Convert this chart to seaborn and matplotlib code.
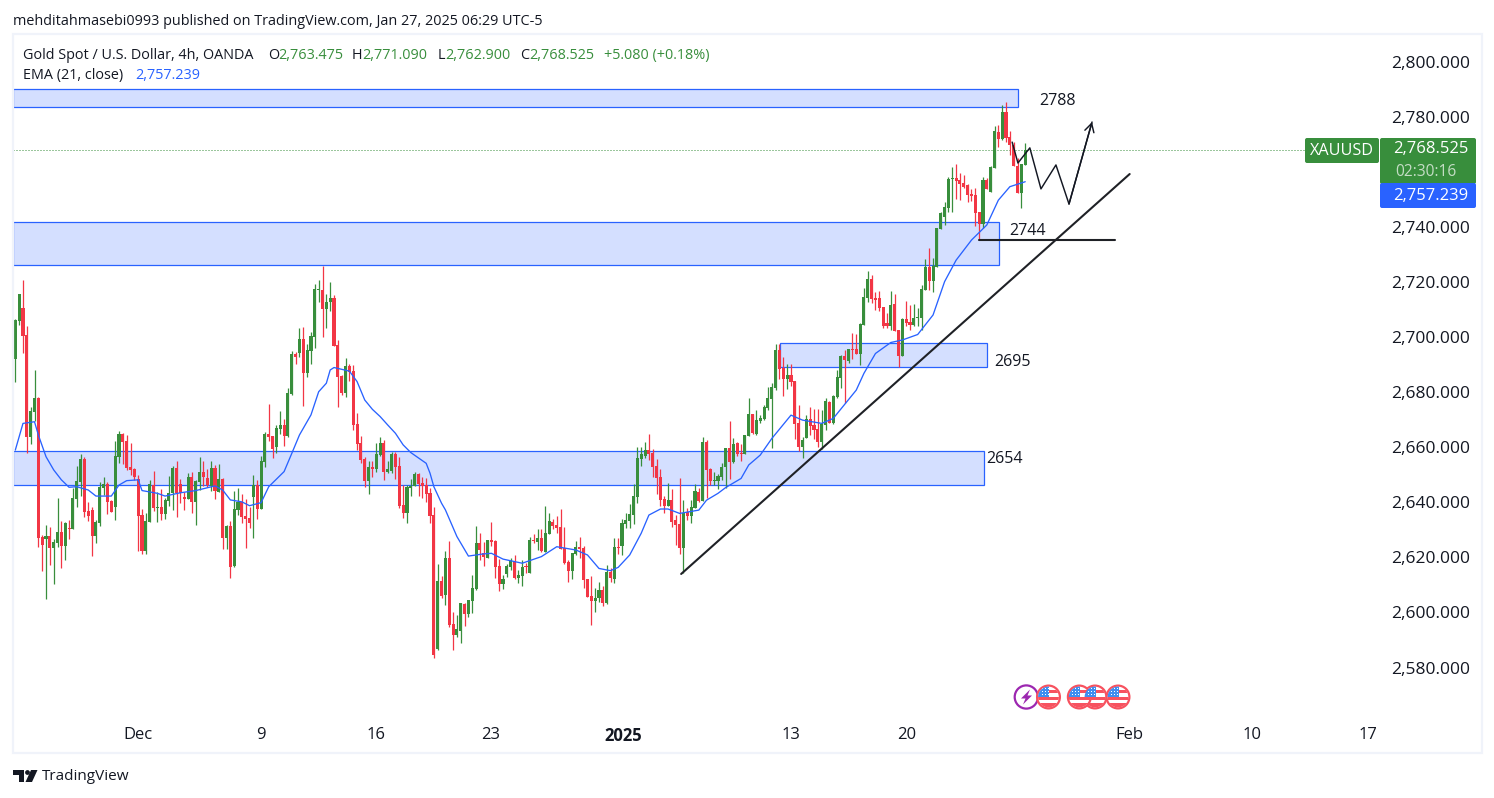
import numpy as np
import pandas as pd
import matplotlib
matplotlib.use("Agg")
import matplotlib.pyplot as plt
from matplotlib.patches import Rectangle, Circle, Polygon, FancyBboxPatch
from matplotlib.transforms import IdentityTransform
import seaborn as sns

opens = [
 2692.2,2706.0,2710.6,2700.8,2663.9,2673.0,2678.1,2627.3,2626.8,2627.8,
 2623.4,2625.2,2629.3,2624.3,2630.7,2630.5,2641.4,2647.4,2655.8,2636.9,
 2637.2,2627.9,2632.6,2645.2,2646.7,2640.5,2638.5,2656.6,2664.9,2662.3,
 2652.9,2652.1,2648.5,2635.4,2622.5,2633.0,2646.3,2638.1,2638.3,2635.9,
 2640.6,2643.3,2652.5,2646.7,2642.0,2641.4,2649.2,2640.3,2647.4,2651.0,
 2648.9,2646.0,2652.5,2643.8,2648.5,2627.2,2631.4,2617.0,2637.2,2640.2,
 2635.1,2634.3,2642.1,2646.3,2637.7,2654.8,2664.9,2664.1,2660.3,2666.7,
 2668.1,2664.1,2679.4,2693.9,2694.3,2699.4,2687.0,2695.0,2700.1,2717.2,
 2717.2,2710.3,2712.8,2714.3,2697.2,2685.9,2679.7,2689.6,2687.7,2668.5,
 2661.6,2655.8,2647.8,2652.9,2652.1,2657.2,2661.6,2651.0,2651.4,2657.6,
 2653.2,2639.1,2636.2,2645.2,2646.0,2650.3,2647.1,2646.3,2643.4,2635.4,
 2586.7,2611.4,2606.4,2619.8,2595.8,2591.8,2593.3,2603.1,2599.5,2604.2,
 2608.5,2625.2,2621.6,2619.8,2626.3,2626.0,2616.9,2610.3,2614.0,2616.5,
 2618.7,2612.5,2613.3,2616.9,2614.3,2626.3,2625.6,2627.1,2622.0,2628.5,
 2632.9,2631.8,2631.1,2623.4,2618.3,2615.1,2621.3,2623.8,2623.4,2612.2,
 2606.0,2604.2,2605.3,2608.2,2603.5,2614.7,2612.2,2623.8,2624.2,2632.2,
 2633.2,2635.4,2642.0,2655.8,2656.9,2659.0,2657.9,2653.2,2649.2,2641.2,
 2638.7,2640.9,2633.6,2632.1,2623.4,2636.5,2635.0,2637.9,2643.7,2640.5,
 2661.9,2652.1,2647.7,2647.7,2649.2,2652.8,2659.7,2654.6,2661.5,2657.9,
 2657.6,2664.1,2672.1,2664.8,2669.5,2670.3,2674.3,2677.5,2681.5,2695.3,
 2688.8,2684.8,2686.3,2684.1,2668.8,2660.1,2663.4,2670.3,2668.1,2666.6,
 2661.9,2668.1,2676.4,2668.8,2678.3,2685.2,2693.2,2691.3,2695.7,2695.7,
 2693.9,2704.4,2714.2,2721.1,2714.2,2714.2,2711.0,2705.0,2704.1,2712.1,
 2702.6,2693.2,2706.6,2705.5,2704.4,2707.0,2707.0,2717.1,2725.5,2720.4,
 2725.5,2739.3,2743.7,2746.9,2757.5,2757.8,2757.1,2756.0,2755.3,2752.0,
 2751.7,2745.5,2741.1,2757.1,2752.7,2761.5,2774.5,2772.0,2781.8,2772.7,
 2769.8,2762.2,2752.4,2762.6]
highs = [
 2706.5,2715.7,2720.8,2704.1,2674.7,2688.1,2678.3,2628.2,2631.8,2631.2,
 2626.6,2641.6,2633.3,2632.8,2633.6,2645.1,2653.2,2657.6,2656.5,2640.2,
 2638.2,2633.6,2647.4,2649.2,2647.4,2640.9,2662.3,2666.0,2665.2,2664.5,
 2661.6,2652.5,2650.0,2637.6,2636.1,2648.2,2651.4,2643.8,2644.9,2641.6,
 2649.6,2653.2,2655.1,2648.5,2643.8,2650.7,2651.0,2648.2,2656.5,2655.1,
 2652.1,2655.1,2653.6,2654.0,2648.9,2631.8,2633.3,2644.2,2645.2,2643.1,
 2641.2,2638.3,2650.0,2648.2,2656.9,2665.6,2675.8,2664.1,2668.1,2673.2,
 2670.3,2681.6,2695.0,2694.6,2703.4,2703.7,2697.6,2701.9,2719.3,2720.8,
 2725.9,2715.7,2720.1,2715.4,2699.0,2686.3,2692.5,2690.3,2689.9,2672.5,
 2664.1,2656.5,2655.1,2655.1,2661.6,2663.8,2662.7,2655.1,2658.3,2658.3,
 2656.5,2646.3,2646.3,2648.5,2651.0,2650.7,2649.2,2648.9,2645.2,2638.2,
 2617.6,2613.3,2622.3,2626.0,2600.2,2599.1,2603.5,2603.5,2604.5,2613.6,
 2631.4,2628.9,2625.6,2626.3,2632.9,2626.3,2619.4,2613.6,2617.6,2619.8,
 2620.9,2615.4,2619.1,2618.0,2627.4,2628.5,2630.3,2630.3,2638.7,2636.1,
 2634.0,2635.1,2637.6,2631.1,2619.1,2621.6,2626.0,2627.4,2624.2,2612.2,
 2613.3,2608.9,2611.1,2609.6,2617.3,2616.2,2627.1,2627.1,2634.0,2636.1,
 2639.4,2646.7,2660.1,2660.1,2661.9,2664.8,2659.4,2655.8,2652.1,2642.3,
 2647.0,2644.9,2635.4,2648.8,2640.8,2637.9,2640.8,2646.6,2645.2,2663.7,
 2662.6,2652.5,2651.0,2650.3,2654.3,2659.7,2669.5,2663.4,2661.9,2661.2,
 2664.5,2677.9,2672.1,2673.5,2671.7,2675.4,2681.9,2683.3,2697.5,2697.5,
 2692.8,2690.2,2690.2,2684.1,2675.4,2663.7,2671.7,2674.6,2673.9,2673.9,
 2673.5,2677.9,2676.8,2679.0,2688.1,2693.5,2695.3,2695.7,2701.5,2701.1,
 2705.2,2717.9,2724.0,2722.6,2716.4,2716.8,2711.0,2708.7,2716.8,2715.7,
 2702.6,2707.0,2713.1,2711.7,2712.1,2710.6,2719.0,2728.4,2732.4,2728.8,
 2739.7,2745.5,2749.1,2758.2,2761.8,2762.9,2759.6,2758.9,2755.6,2753.8,
 2754.2,2745.5,2758.2,2757.8,2762.2,2776.7,2777.1,2784.4,2785.4,2774.9,
 2770.9,2765.1,2762.9,2770.5]
lows = [
 2683.9,2704.5,2694.4,2657.8,2661.3,2669.6,2623.9,2615.2,2605.0,2617.4,
 2610.5,2623.7,2616.3,2619.2,2626.8,2630.4,2638.5,2642.4,2634.8,2633.4,
 2620.7,2625.4,2631.4,2642.6,2635.9,2636.5,2633.6,2654.4,2654.0,2651.8,
 2650.0,2648.2,2622.5,2621.4,2621.4,2633.0,2637.0,2633.0,2633.7,2634.1,
 2638.8,2637.4,2634.8,2639.9,2637.4,2641.4,2636.3,2631.9,2644.5,2646.0,
 2645.7,2644.2,2641.4,2643.8,2623.2,2623.2,2612.7,2616.7,2635.4,2632.6,
 2623.6,2630.8,2627.2,2634.1,2637.7,2653.0,2662.4,2656.2,2657.8,2664.9,
 2660.5,2663.9,2679.0,2690.3,2692.8,2675.1,2685.6,2690.3,2696.1,2712.8,
 2700.1,2703.4,2709.5,2696.8,2674.7,2679.0,2678.3,2684.1,2666.3,2659.0,
 2654.3,2645.6,2643.1,2649.2,2651.0,2656.9,2648.2,2650.7,2650.7,2648.5,
 2638.0,2634.3,2632.5,2642.3,2646.0,2642.3,2641.6,2640.2,2632.5,2583.5,
 2586.4,2605.1,2602.7,2594.7,2586.4,2591.2,2588.9,2595.1,2598.4,2599.8,
 2608.2,2619.1,2616.9,2619.8,2624.2,2612.5,2607.8,2608.5,2612.9,2615.4,
 2612.2,2610.7,2609.6,2614.3,2614.3,2625.2,2622.7,2622.0,2622.0,2628.5,
 2630.3,2628.9,2623.1,2617.6,2611.1,2612.2,2620.9,2619.8,2608.9,2605.6,
 2595.5,2600.2,2603.8,2602.4,2603.1,2611.1,2610.7,2621.3,2620.9,2630.7,
 2630.7,2632.2,2639.8,2653.2,2656.1,2655.4,2649.2,2643.0,2638.7,2636.2,
 2638.7,2631.1,2624.5,2621.2,2614.3,2633.6,2632.5,2637.9,2640.1,2640.5,
 2641.6,2646.3,2646.3,2644.8,2648.1,2645.2,2648.5,2654.3,2656.8,2655.0,
 2657.6,2664.1,2664.8,2664.5,2668.8,2669.9,2673.5,2659.7,2680.8,2684.8,
 2678.6,2681.2,2682.3,2663.0,2658.6,2656.1,2663.4,2664.5,2663.0,2660.1,
 2659.4,2666.3,2668.8,2668.5,2677.9,2681.5,2676.1,2690.6,2692.1,2693.9,
 2689.9,2704.4,2712.8,2712.4,2709.9,2709.5,2703.3,2703.2,2702.6,2702.2,
 2689.2,2693.2,2704.1,2702.6,2704.1,2704.1,2702.6,2717.1,2717.1,2716.4,
 2725.5,2739.3,2740.8,2745.5,2745.5,2750.2,2749.8,2754.2,2749.1,2749.5,
 2740.4,2735.3,2739.7,2753.8,2752.7,2761.5,2769.1,2771.6,2770.9,2766.2,
 2762.2,2752.4,2746.9,2762.5]
closes = [
 2706.3,2715.7,2700.6,2663.9,2673.2,2677.9,2627.2,2624.5,2627.8,2623.4,
 2625.6,2629.3,2624.3,2632.5,2630.5,2641.6,2647.8,2655.8,2636.6,2635.1,
 2627.9,2632.9,2645.6,2646.7,2640.3,2636.6,2656.9,2664.9,2662.1,2652.6,
 2651.8,2649.2,2635.2,2622.5,2633.2,2646.7,2638.1,2638.3,2635.9,2640.9,
 2643.4,2652.5,2643.3,2643.3,2641.4,2649.2,2640.3,2647.8,2651.0,2649.2,
 2646.3,2652.5,2644.2,2648.5,2627.2,2631.4,2616.7,2637.6,2640.2,2634.8,
 2634.1,2632.6,2646.3,2637.7,2655.1,2664.9,2663.9,2659.4,2667.0,2668.1,
 2664.1,2679.7,2693.9,2692.8,2699.4,2687.1,2695.4,2700.5,2717.5,2717.5,
 2710.3,2712.8,2714.3,2696.8,2685.6,2679.7,2689.6,2687.4,2668.1,2661.2,
 2655.4,2647.8,2652.9,2652.1,2657.6,2661.6,2651.0,2652.1,2657.6,2652.9,
 2638.7,2636.2,2645.6,2646.0,2650.3,2646.7,2646.0,2643.1,2635.1,2584.6,
 2611.4,2606.1,2619.8,2595.5,2591.8,2594.0,2603.5,2599.5,2604.5,2608.9,
 2625.2,2622.7,2620.2,2626.3,2625.6,2616.5,2610.3,2612.2,2616.9,2618.7,
 2612.5,2613.6,2616.5,2616.5,2626.3,2626.0,2627.1,2622.3,2628.9,2633.2,
 2631.4,2630.7,2623.1,2618.0,2615.1,2621.6,2623.8,2623.1,2611.8,2605.6,
 2604.2,2605.3,2608.2,2603.5,2614.7,2612.5,2623.8,2623.4,2632.5,2633.6,
 2635.8,2642.3,2656.1,2657.6,2659.0,2657.6,2652.9,2648.9,2640.9,2638.7,
 2640.9,2632.9,2631.8,2623.4,2636.1,2635.0,2638.3,2644.1,2640.5,2661.9,
 2651.7,2647.7,2648.1,2649.6,2652.8,2659.7,2654.6,2661.2,2657.6,2657.6,
 2664.5,2672.1,2665.2,2669.9,2670.6,2674.6,2677.9,2681.9,2695.3,2688.4,
 2684.8,2686.3,2683.7,2668.4,2660.1,2662.6,2670.3,2667.7,2666.3,2661.9,
 2668.5,2676.8,2668.8,2678.6,2685.5,2693.2,2691.7,2695.7,2695.3,2693.9,
 2704.8,2714.6,2721.1,2713.9,2713.5,2710.6,2704.1,2704.1,2711.7,2702.2,
 2693.2,2706.6,2705.2,2704.4,2707.0,2707.3,2717.5,2725.5,2720.4,2725.9,
 2739.7,2745.1,2747.3,2757.5,2757.8,2756.7,2755.6,2754.6,2751.7,2751.3,
 2745.1,2741.1,2757.1,2753.8,2761.8,2774.9,2772.0,2781.8,2772.4,2769.8,
 2762.2,2752.4,2762.9,2768.0]

ema_idx = [0,2,5,6,8,10,12,14,16,19,21,25,27,29,32,33,37,39,43,47,52,54,56,59,61,
           64,66,70,72,74,77,79,81,82,83,87,89,91,93,95,97,99,101,103,107,108,109,111,112,115,118,
           122,124,127,132,137,141,146,149,152,155,157,160,163,165,168,170,173,
           178,180,183,185,189,191,194,197,202,205,210,213,219,221,224,228,231,235,239,242,245,249,253,256,259,263]
ema_val = [2659.0,2668.7,2669.3,2664.5,2656.6,2651.8,2648.2,2645.5,2645.7,2644.5,2642.3,2642.3,2646.3,2647.9,2648.2,2644.3,2643.3,2642.3,2643.5,2644.3,2646.0,2644.5,2640.9,2640.2,2638.8,
           2639.9,2645.7,2651.2,2657.8,2664.5,2671.8,2680.2,2683.3,2688.1,2689.0,2687.7,2683.9,2677.2,2673.8,2671.2,2668.1,2665.1,2660.9,2658.1,2654.2,2650.6,2645.7,2639.7,2637.3,2627.6,2620.5,
           2621.3,2621.5,2619.4,2617.9,2620.3,2623.9,2622.7,2620.9,2616.0,2615.2,2616.4,2620.9,2628.8,2635.4,2637.6,2637.6,2636.0,
           2637.2,2640.8,2643.3,2645.4,2648.7,2653.6,2657.2,2663.2,2671.7,2669.9,2668.7,2670.5,2680.8,2686.9,2694.1,2698.1,2699.0,2701.0,2708.1,2720.2,2728.0,2735.3,2740.8,2749.8,2754.7,2756.5]

zone_left = [-0.6, -0.6, 199.1, -0.6]
zone_right = [261.1, 256.2, 253.1, 252.3]
zone_top = [2790.2, 2741.9, 2697.9, 2658.7]
zone_bottom = [2783.7, 2726.2, 2689.2, 2646.3]

trend_idx = [173.4, 290.2]
trend_price = [2614.0, 2759.3]
support_idx = [251.0, 286.4]
support_price = [2735.3, 2735.3]
path_idx = [259.6, 261.1, 264.2, 267.1, 271.0, 274.4, 280.4]
path_price = [2770.9, 2763.3, 2768.8, 2753.9, 2762.6, 2748.4, 2778.2]

note_text = ["2788", "2744", "2695", "2654"]
note_idx = [271.5, 263.7, 259.6, 257.7]
note_price = [2785.8, 2738.6, 2691.0, 2655.7]

price_ticks = list(range(2580, 2801, 20))
date_ticks = [31.9, 64.0, 93.9, 123.9, 158.3, 202.0, 232.2, 290.0, 322.0, 352.2]
date_labels = ["Dec", "9", "16", "23", "2025", "13", "20", "Feb", "10", "17"]
last_price_label = "2,768.525"
last_ema_label = "2,757.239"
price_line = 2767.9

GREEN, RED, BLUE, INK = "#388e3c", "#f23645", "#2962ff", "#131722"
W, H = 1494, 798
FONT = ["Open Sans", "DejaVu Sans"]

sns.set_theme(style="white")
plt.rcParams["font.family"] = FONT
fig = plt.figure(figsize=(W / 100, H / 100), dpi=100, facecolor="white")
ax = fig.add_axes([13 / W, (H - 716) / H, (1381 - 13) / W, (716 - 35) / H])
ax.set_facecolor("white")
for s in ax.spines.values():
    s.set_visible(False)

def px(x, y):
    return x / W, (H - y) / H

def ytop(y):
    return H - y

idx = np.arange(len(opens))
o, h, l, c = map(np.array, (opens, highs, lows, closes))
up = c >= o
colors = np.where(up, GREEN, RED)

for a, b, t, u in zip(zone_left, zone_right, zone_top, zone_bottom):
    ax.add_patch(Rectangle((a, u), b - a, t - u, fc=(0.161, 0.384, 1, 0.2), ec=BLUE, lw=0.9, zorder=1))

ax.vlines(idx, l, h, colors=colors, lw=0.9, zorder=3)
ax.bar(idx, np.maximum(np.abs(c - o), 0.3), bottom=np.minimum(o, c), width=0.8, color=colors, lw=0, zorder=4)

df = pd.DataFrame({"candle": ema_idx, "ema": ema_val})
sns.lineplot(data=df, x="candle", y="ema", ax=ax, color=BLUE, lw=0.95, zorder=5, errorbar=None, estimator=None, sort=False)

ax.hlines(price_line, -0.6, 336, colors=GREEN, lw=0.72, linestyles=(0, (1, 2)), zorder=2)
ax.plot(trend_idx, trend_price, color="#1f2126", lw=1.5, zorder=6, solid_capstyle="round")
ax.plot(support_idx, support_price, color="#1f2126", lw=1.5, zorder=6)
ax.plot(path_idx, path_price, color="#131722", lw=1.05, zorder=7)
ax.annotate("", xy=(path_idx[-1], path_price[-1]), xytext=(path_idx[-2], path_price[-2]),
            arrowprops=dict(arrowstyle="->,head_length=0.5,head_width=0.28", color="#131722", lw=1.05, shrinkA=0, shrinkB=0), zorder=7)

for t, xi, yi in zip(note_text, note_idx, note_price):
    ax.text(xi, yi, t, ha="center", va="center", fontsize=11.5, color="#131722", zorder=8)

ax.set_xlim(-0.6, 355.65)
ax.set_ylim(2800 - (716 - 62) / 2.7525, 2800 + (62 - 35) / 2.7525)
ax.set_xlabel("")
ax.set_ylabel("")
ax.yaxis.tick_right()
ax.set_yticks(price_ticks)
ax.set_yticklabels([f"{p:,}.000" for p in price_ticks])
ax.tick_params(axis="y", length=0, pad=7.2, labelsize=12.5, labelcolor=INK)
ax.set_xticks(date_ticks)
ax.set_xticklabels(date_labels)
ax.tick_params(axis="x", length=0, pad=8, labelsize=12.0, labelcolor=INK)
for lab in ax.get_xticklabels():
    if lab.get_text() == "2025":
        lab.set_fontweight("bold")

# price tags at the right of the chart
T = IdentityTransform()
def tag(x0, y0, x1, y1, col):
    fig.add_artist(FancyBboxPatch((x0 + 1, ytop(y1) + 1), x1 - x0 - 2, y1 - y0 - 2, boxstyle="round,pad=1,rounding_size=2",
                                  fc=col, ec="none", transform=T))
tag(1305, 138, 1379, 163, GREEN)
tag(1380, 138, 1476, 184, GREEN)
tag(1380, 183, 1476, 208, BLUE)
fig.text(*px(1342, 151), "XAUUSD", color="white", fontsize=11.6, ha="center", va="center", fontweight="medium")
fig.text(*px(1431, 149), last_price_label, color="white", fontsize=12.0, ha="center", va="center", fontweight="medium")
fig.text(*px(1426, 172), "02:30:16", color="#c4ddc5", fontsize=11.2, ha="center", va="center")
fig.text(*px(1431, 196), last_ema_label, color="white", fontsize=12.0, ha="center", va="center", fontweight="medium")

# header
fig.text(*px(13, 21.5), "mehditahmasebi0993 published on TradingView.com, Jan 27, 2025 06:29 UTC-5", fontsize=10.4, color=INK, va="center")
pieces = [(23, "Gold Spot / U.S. Dollar, 4h, OANDA", INK), (268, "O", INK), (278, "2,763.475", GREEN),
          (352, "H", INK), (362, "2,771.090", GREEN), (438, "L", INK), (445.5, "2,762.900", GREEN),
          (520, "C", INK), (529, "2,768.525", GREEN), (604, "+5.080 (+0.18%)", GREEN)]
for x, s, col in pieces:
    fig.text(*px(x, 55.5), s, fontsize=10.4, color=col, va="center")
fig.text(*px(23, 75.5), "EMA (21, close)", fontsize=10.4, color=INK, va="center")
fig.text(*px(135, 75.5), "2,757.239", fontsize=10.4, color=BLUE, va="center")

# panel frame
fig.add_artist(Rectangle((12.5, ytop(753)), 1469, 719, fc="none", ec="#f0f3fa", lw=1.6, transform=T))

# event icons
def flag(cx, cy):
    r = 11.4
    fig.add_artist(Circle((cx, ytop(cy)), r, fc="white", ec="#f7525f", lw=1.6, transform=T, zorder=10))
    disc = Circle((cx, ytop(cy)), r - 1.0, transform=T)
    for y0, y1, x0 in [(cy - 7, cy - 4, cx), (cy, cy + 3, cx - r), (cy + 5.5, cy + 10.5, cx - r)]:
        st = Rectangle((x0, ytop(y1)), 2 * r, y1 - y0, fc="#f7525f", ec="none", transform=T, zorder=11)
        fig.add_artist(st)
        st.set_clip_path(disc)
    st = Rectangle((cx - r, ytop(cy - 0.5)), r + 0.5, r, fc="#3f8ef0", ec="none", transform=T, zorder=12)
    fig.add_artist(st)
    st.set_clip_path(disc)
    for dx in (-7, -4, -1):
        for dy in (-8, -5, -2):
            dot = Rectangle((cx + dx, ytop(cy + dy)), 1, 1, fc="white", ec="none", transform=T, zorder=13)
            fig.add_artist(dot)
            dot.set_clip_path(disc)

fig.add_artist(Circle((1026.3, ytop(697)), 11.6, fc="white", ec="#9c27b0", lw=1.6, transform=T, zorder=10))
fig.add_artist(Polygon([(1030, ytop(689.5)), (1021, ytop(698.5)), (1025.5, ytop(698.5)), (1023, ytop(704.5)),
                        (1032, ytop(695.5)), (1027.5, ytop(695.5))], fc="#9c27b0", ec="none", transform=T, zorder=11))
for cx in [1048.5, 1095, 1079.3, 1118]:
    flag(cx, 697)

# footer logo
fig.add_artist(Polygon([(13, ytop(770)), (24, ytop(770)), (24, ytop(782)), (19, ytop(782)), (19, ytop(775)), (13, ytop(775))],
                       fc=INK, ec="none", transform=T))
fig.add_artist(Circle((27.5, ytop(772.5)), 2.4, fc=INK, ec="none", transform=T))
fig.add_artist(Polygon([(31, ytop(770)), (37.5, ytop(770)), (32, ytop(782)), (25.5, ytop(782))], fc=INK, ec="none", transform=T))
fig.text(*px(42, 777), "TradingView", fontsize=11, color=INK, va="center", fontweight="medium")

fig.savefig("out.png", dpi=100)
